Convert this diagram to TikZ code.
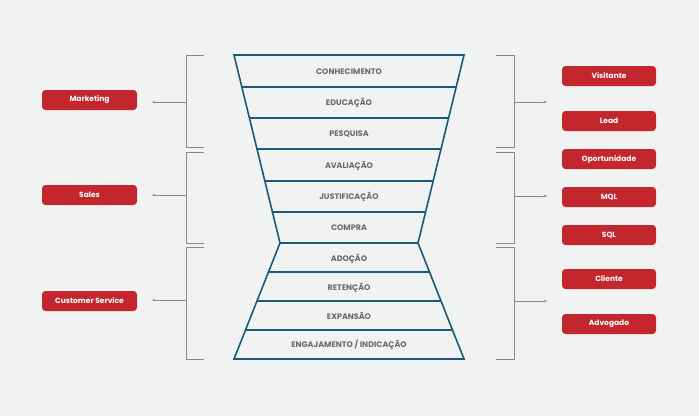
\documentclass[tikz,border=0pt]{standalone}
\usepackage{fontspec}
\setmainfont{Poppins}
\usetikzlibrary{arrows.meta}
\definecolor{bg}{HTML}{F1F2F2}
\definecolor{fun}{HTML}{1D5A78}
\definecolor{rd}{HTML}{C4262E}
\definecolor{br}{HTML}{8A8A8A}
\definecolor{tx}{HTML}{6A6A6A}
\begin{document}
\begin{tikzpicture}[x=1pt,y=-1pt,
  box/.style={fill=rd,rounded corners=3.5pt,minimum width=95pt,minimum height=20pt,text=white,font=\fontsize{7.5}{8}\selectfont\bfseries,inner sep=0pt},
  lab/.style={text=tx,font=\fontsize{8}{9}\selectfont\bfseries},
  fl/.style={draw=fun,line width=1.6pt},
  brk/.style={draw=br,line width=0.9pt},
  arr/.style={draw=br,line width=0.7pt,-{Stealth[length=3pt,width=2.5pt]}}]
\fill[bg] (0,0) rectangle (699,416);
\useasboundingbox (0,0) rectangle (699,416);
% funnel
\draw[fl,line join=miter] (234,55) -- (464,55) -- (418,243) -- (464,359) -- (234,359) -- (280,243) -- cycle;
\foreach \y in {87,118,149,181,212} {
  \pgfmathsetmacro\d{(\y-55)*46/188}
  \draw[fl] (234+\d,\y) -- (464-\d,\y);
}
\draw[fl] (280,243) -- (418,243);
\foreach \y in {272,301,330} {
  \pgfmathsetmacro\d{(359-\y)*46/116}
  \draw[fl] (234+\d,\y) -- (464-\d,\y);
}
\node[lab] (l1) at (349,72) {CONHECIMENTO};
\node[lab] (l2) at (349,103) {EDUCAÇÃO};
\node[lab] (l3) at (349,134) {PESQUISA};
\node[lab] (l4) at (349,166) {AVALIAÇÃO};
\node[lab] (l5) at (349,197) {JUSTIFICAÇÃO};
\node[lab] (l6) at (349,228) {COMPRA};
\node[lab] (l7) at (349,259) {ADOÇÃO};
\node[lab] (l8) at (349,288) {RETENÇÃO};
\node[lab] (l9) at (349,316) {EXPANSÃO};
\node[lab] (l10) at (349,345) {ENGAJAMENTO / INDICAÇÃO};
% brackets
\foreach \a/\b in {55/147,152/243,247/359} {
  \draw[brk] (204,\a) -- (186,\a) -- (186,\b) -- (204,\b);
  \draw[brk] (496,\a) -- (514,\a) -- (514,\b) -- (496,\b);
}
\node[box] (mk) at (89.5,100) {Marketing};
\node[box] (sa) at (89.5,195) {Sales};
\node[box] (cs) at (89.5,301) {Customer Service};
\coordinate (lb1) at (186,102); \coordinate (la1) at (152,102);
\coordinate (lb2) at (186,195); \coordinate (la2) at (152,195);
\coordinate (lb3) at (186,300); \coordinate (la3) at (152,300);
\draw[arr] (lb1) -- (la1);
\draw[arr] (lb2) -- (la2);
\draw[arr] (lb3) -- (la3);
\coordinate (rb1) at (514,102); \coordinate (ra1) at (547,102);
\coordinate (rb2) at (514,196); \coordinate (ra2) at (547,196);
\coordinate (rb3) at (514,301); \coordinate (ra3) at (547,301);
\draw[arr] (rb1) -- (ra1);
\draw[arr] (rb2) -- (ra2);
\draw[arr] (rb3) -- (ra3);
\node[box,minimum width=94pt] (v) at (609,76) {Visitante};
\node[box,minimum width=94pt] (le) at (609,121) {Lead};
\node[box,minimum width=94pt] (op) at (609,159) {Oportunidade};
\node[box,minimum width=94pt] (mq) at (609,197) {MQL};
\node[box,minimum width=94pt] (sq) at (609,235) {SQL};
\node[box,minimum width=94pt] (cl) at (609,279) {Cliente};
\node[box,minimum width=94pt] (ad) at (609,324) {Advogado};
\end{tikzpicture}
\end{document}
